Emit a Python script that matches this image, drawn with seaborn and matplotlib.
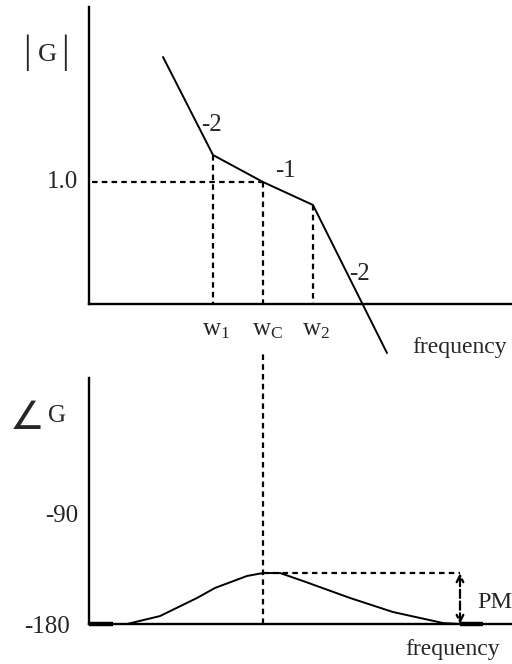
import numpy as np
import pandas as pd
import matplotlib
matplotlib.use("Agg")
import matplotlib.pyplot as plt
import seaborn as sns

# ---------------- data ----------------
# frequency axis in "break" units: w1 = 1, wC = 2, w2 = 3
break_names = ["w1", "wC", "w2"]
break_freq = [1.0, 2.0, 3.0]
break_labels = [r"$\mathregular{w_1}$", r"$\mathregular{w_C}$", r"$\mathregular{w_2}$"]

# asymptotic magnitude (log units, 1.0 -> 0)
mag_freq = [0.0, 1.0, 2.0, 3.0, 4.48]
mag_log = [2.5, 0.54, 0.0, -0.46, -3.42]
slope_labels = ["-2", "-1", "-2"]

# phase curve (degrees)
phase_freq = [-1.0, -0.72, -0.06, 0.68, 1.04, 1.68, 2.0, 2.34, 2.8, 3.74, 4.6, 5.6, 5.94]
phase_deg = [-180, -180, -173.5, -158.7, -150.5, -140.7, -138.3, -138.3, -144.8,
             -158.7, -170.2, -179.2, -180]
flat_left = [-1.48, -1.0]
flat_right = [5.94, 6.4]

mag_ticks = [0.0]
mag_ticklabels = ["1.0"]
phase_ticks = [-90, -180]
phase_ticklabels = ["-90", "-180"]

# ---------------- style ----------------
sns.set_style("white")
plt.rcParams["font.family"] = ["Liberation Serif", "DejaVu Serif"]
plt.rcParams["mathtext.fontset"] = "custom"
plt.rcParams["mathtext.rm"] = "Liberation Serif"
FS = 18
LW = 1.4
DLW = 1.6
DASH = (0, (2.5, 1.9))

W, H = 512, 664
fig = plt.figure(figsize=(W / 100, H / 100), dpi=100)
ax1 = fig.add_axes([89 / W, (H - 304) / H, (W - 89) / W, 297 / H])
ax2 = fig.add_axes([89 / W, (H - 624) / H, (W - 89) / W, 246 / H])

XL = (-1.48, 6.98)
for ax in (ax1, ax2):
    ax.set_xlim(*XL)
    ax.set_xticks([])
    ax.set_yticks([])
    for s in ["top", "right"]:
        ax.spines[s].set_visible(False)
    for s in ["left", "bottom"]:
        ax.spines[s].set_linewidth(1.7)
        ax.spines[s].set_color("black")
    ax.patch.set_alpha(0)
ax1.set_ylim(-2.44, 3.5)
ax2.set_ylim(-180, 21.3)

# ---------------- magnitude ----------------
mag_df = pd.DataFrame({"freq": mag_freq, "mag": mag_log})
sns.lineplot(data=mag_df, x="freq", y="mag", ax=ax1, color="black", lw=LW,
             sort=False, clip_on=False)

def mag_at(f):
    return float(np.interp(f, mag_freq, mag_log))

ybot = ax1.get_ylim()[0]
# 1.0 level
ax1.plot([XL[0] + 0.06, break_freq[1]], [mag_ticks[0]] * 2, color="black", lw=DLW, ls=DASH)
for f in break_freq:
    ax1.plot([f, f], [mag_at(f), ybot], color="black", lw=DLW, ls=DASH)

for f, lab in zip(break_freq, break_labels):
    ax1.text(f - 0.22, -3.06, lab, fontsize=FS, ha="left", va="baseline", clip_on=False)

# slope labels
slope_pos = [(0.98, 1.02), (2.44, 0.10), (3.94, -1.96)]
for (x, y), lab in zip(slope_pos, slope_labels):
    ax1.text(x, y, lab, fontsize=FS, ha="center", va="baseline")

ax1.text(-1.70, -0.12, mag_ticklabels[0], fontsize=FS, ha="right", va="baseline", clip_on=False)
ax1.text(-2.32, 2.42, "G", fontsize=FS + 1, ha="center", va="baseline", clip_on=False)
for xb in (-2.72, -1.96):
    ax1.text(xb, 2.40, "|", fontsize=FS + 10, ha="center", va="baseline", clip_on=False)
ax1.text(4.98, -3.42, "frequency", fontsize=FS - 1, ha="left", va="baseline", clip_on=False)

# ---------------- phase ----------------
ph_df = pd.DataFrame({"freq": phase_freq, "phase": phase_deg})
sns.lineplot(data=ph_df, x="freq", y="phase", ax=ax2, color="black", lw=LW, sort=False)
ax2.plot(flat_left, [-180, -180], color="black", lw=3.2, solid_capstyle="butt", clip_on=False)
ax2.plot(flat_right, [-180, -180], color="black", lw=3.2, solid_capstyle="butt", clip_on=False)

peak = max(phase_deg)
wc = break_freq[1]
ax2.plot([wc, wc], [-180, 41.8], color="black", lw=DLW, ls=DASH, clip_on=False)
ax2.plot([wc, flat_right[0]], [peak, peak], color="black", lw=DLW, ls=DASH)
ax2.annotate("", xy=(flat_right[0], peak), xytext=(flat_right[0], -180),
             arrowprops=dict(arrowstyle="<->", color="black", lw=DLW, ls="--",
                             shrinkA=0, shrinkB=0, mutation_scale=12))

ax2.text(6.28, -166.9, "PM", fontsize=FS - 0.5, ha="left", va="baseline", clip_on=False)
ax2.text(4.84, -205.4, "frequency", fontsize=FS - 1, ha="left", va="baseline", clip_on=False)
ax2.text(-1.70, -96.5, phase_ticklabels[0], fontsize=FS, ha="right", va="baseline", clip_on=False)
ax2.text(-1.86, -187.4, phase_ticklabels[1], fontsize=FS, ha="right", va="baseline", clip_on=False)
ax2.text(-1.94, -14.7, "G", fontsize=FS, ha="right", va="baseline", clip_on=False)
ax2.text(-2.36, -20.5, "\u2220", fontsize=FS + 10, ha="right", va="baseline",
         family=["DejaVu Sans"], clip_on=False)

fig.savefig("out.png", dpi=100)
